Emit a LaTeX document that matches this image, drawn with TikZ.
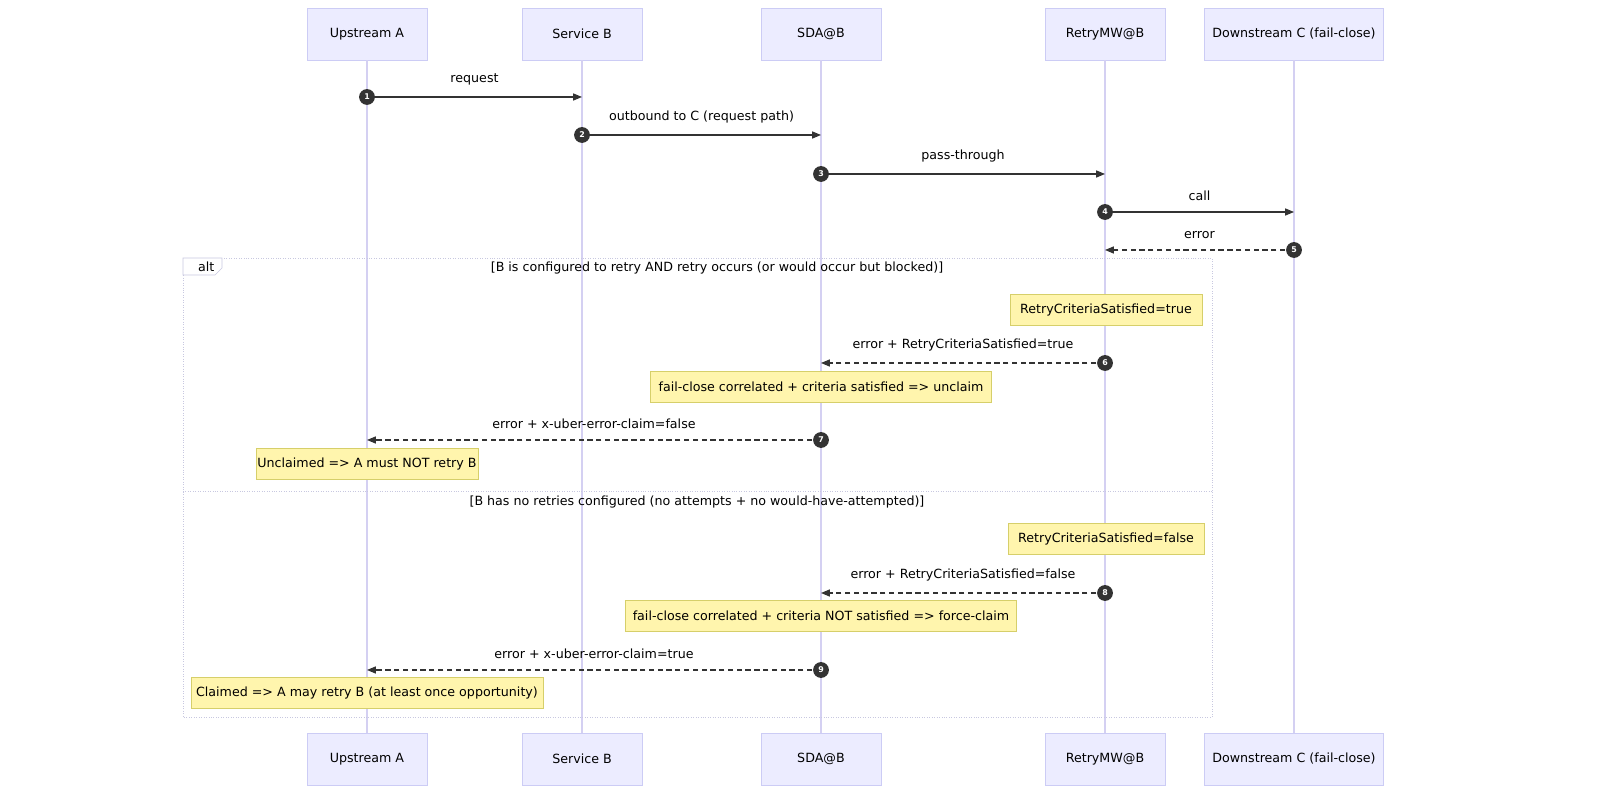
\documentclass[tikz,border=0pt]{standalone}
\usepackage{fontspec}
\setmainfont{DejaVu Sans}
\usetikzlibrary{arrows.meta}
\definecolor{actfill}{HTML}{ECECFF}
\definecolor{actline}{HTML}{CCCCF5}
\definecolor{lifeln}{HTML}{D4D0F2}
\definecolor{notefill}{HTML}{FFF5AD}
\definecolor{noteline}{HTML}{D6CF6A}
\definecolor{altline}{HTML}{C8C8E0}
\tikzset{
  actor/.style={draw=actline, fill=actfill, minimum height=52*0.02cm, inner sep=0pt},
  note/.style={draw=noteline, fill=notefill, inner sep=0pt, minimum height=31*0.02cm},
  msg/.style={-{Triangle[length=5pt,width=4pt]}, draw=black!80, line width=0.6pt},
  reply/.style={msg, densely dashed},
  num/.style={circle, fill=black!80, text=white, inner sep=0pt, minimum size=9pt, font=\fontsize{4.5}{5}\selectfont\bfseries},
  lbl/.style={font=\fontsize{7.2}{9}\selectfont}
}
\begin{document}
\begin{tikzpicture}[x=0.02cm,y=-0.02cm, every node/.style={font=\fontsize{7.2}{9}\selectfont}]

% actors, top and bottom
\foreach \n/\x/\w/\t in {a/367/120/Upstream A, b/582/120/Service B, s/821/120/SDA@B, r/1105/120/RetryMW@B, c/1294/179/Downstream C (fail-close)} {
  \node[actor, minimum width=\w*0.02cm] (\n top) at (\x,34) {\t};
  \node[actor, minimum width=\w*0.02cm] (\n bot) at (\x,759) {\t};
  \draw[lifeln, line width=0.8pt] (\n top) -- (\n bot);
}

% alt frame
\draw[altline, densely dotted] (183,258) rectangle (1212,717);
\draw[altline, densely dotted] (183,491) -- (1212,491);
\draw[altline, fill=white] (183,258) -- (222,258) -- (222,268) -- (215,275) -- (183,275) -- cycle;
\node[anchor=west] (altlbl) at (192,267) {alt};
\node (cond1) at (717,268) {[B is configured to retry AND retry occurs (or would occur but blocked)]};
\node (cond2) at (697,502) {[B has no retries configured (no attempts + no would-have-attempted)]};

% messages
\foreach \i/\fx/\tx/\y/\st/\t in {
  1/367/582/97/msg/request,
  2/582/821/135/msg/outbound to C (request path),
  3/821/1105/174/msg/pass-through,
  4/1105/1294/212/msg/call,
  5/1294/1105/250/reply/error,
  6/1105/821/363/reply/error + RetryCriteriaSatisfied=true,
  7/821/367/440/reply/error + x-uber-error-claim=false,
  8/1105/821/593/reply/error + RetryCriteriaSatisfied=false,
  9/821/367/670/reply/error + x-uber-error-claim=true} {
  \coordinate (m\i s) at (\fx,\y);
  \coordinate (m\i e) at (\tx,\y);
  \draw[\st] (m\i s) -- node[lbl, above=3pt] {\t} (m\i e);
  \node[num] (n\i) at (m\i s) {\i};
}

% notes
\node[note, minimum width=192*0.02cm] (t1) at (1106,310) {RetryCriteriaSatisfied=true};
\node[note, minimum width=341*0.02cm] (t2) at (821,387) {fail-close correlated + criteria satisfied => unclaim};
\node[note, minimum width=222*0.02cm] (t3) at (367,464) {Unclaimed => A must NOT retry B};
\node[note, minimum width=196*0.02cm] (t4) at (1106,539) {RetryCriteriaSatisfied=false};
\node[note, minimum width=391*0.02cm] (t5) at (821,616) {fail-close correlated + criteria NOT satisfied => force-claim};
\node[note, minimum width=352*0.02cm] (t6) at (367,693) {Claimed => A may retry B (at least once opportunity)};

\pgfresetboundingbox
\useasboundingbox (0,0) rectangle (1600,810);
\end{tikzpicture}
\end{document}
